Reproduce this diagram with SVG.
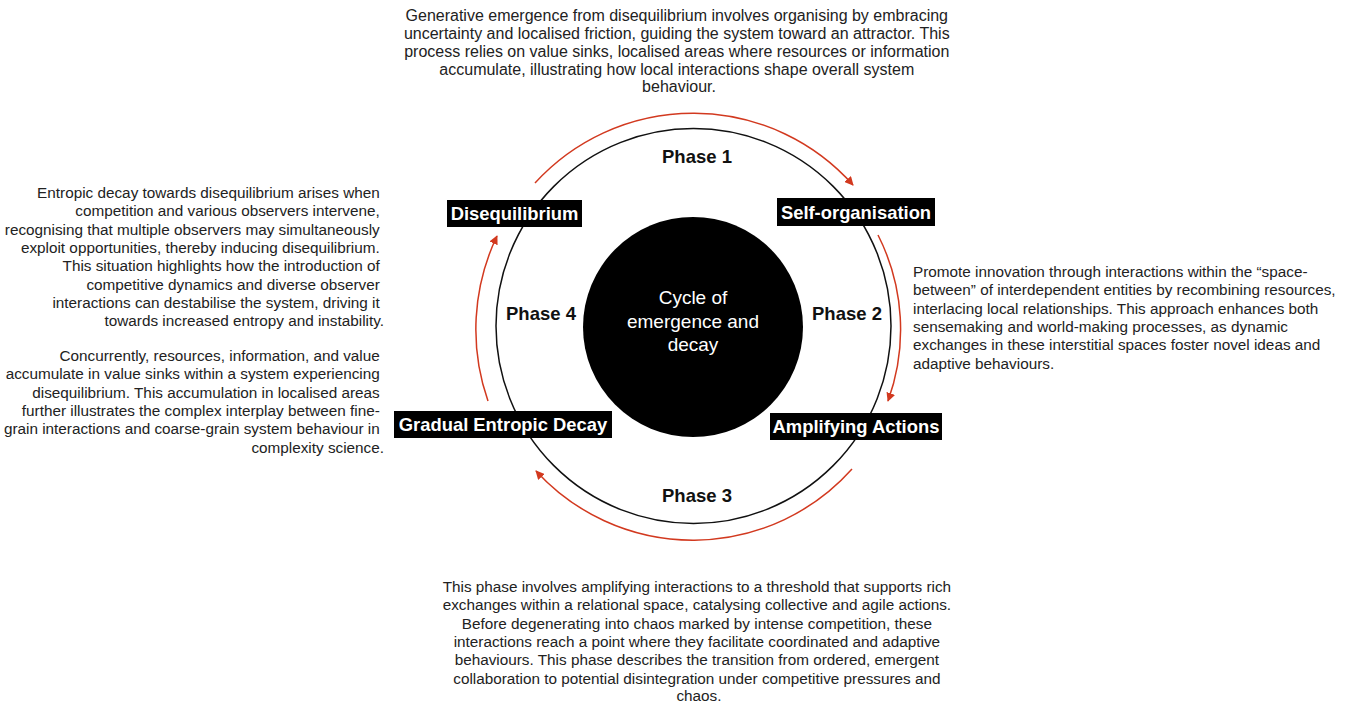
<svg xmlns="http://www.w3.org/2000/svg" width="1350" height="702" viewBox="0 0 1350 702">
  <style>
    .para { font-family: "Liberation Sans", Arial, Helvetica, sans-serif; font-size: 15.3px; fill: #222; }
    .para.wide { font-size: 16px; }
    .phase { font-family: "Liberation Sans", Arial, Helvetica, sans-serif; font-size: 18.5px; font-weight: bold; fill: #111; text-anchor: middle; }
    .tag rect { fill: #000; }
    .tag text { font-family: "Liberation Sans", Arial, Helvetica, sans-serif; font-size: 18.4px; font-weight: bold; fill: #fff; text-anchor: middle; }
    .core { font-family: "Liberation Sans", Arial, Helvetica, sans-serif; font-size: 19px; fill: #fff; text-anchor: middle; }
    .flow { fill: none; stroke: #d2391f; stroke-width: 1.5; marker-end: url(#head); }
  </style>
  <defs>
    <marker id="head" viewBox="0 0 10 10" refX="9" refY="5" markerWidth="9" markerHeight="9" markerUnits="userSpaceOnUse" orient="auto">
      <path d="M0,0 L10,5 L0,10 z" fill="#d2391f"/>
    </marker>
  </defs>
  <rect width="1350" height="702" fill="#fff"/>

  <!-- outer ring of the cycle -->
  <circle cx="693.5" cy="326" r="197.5" fill="none" stroke="#111" stroke-width="1.5"/>

  <!-- centre disc -->
  <g id="core">
    <circle cx="693" cy="327" r="110" fill="#000"/>
    <text class="core" x="693" y="304">Cycle of</text>
    <text class="core" x="693" y="328">emergence and</text>
    <text class="core" x="693" y="351">decay</text>
  </g>

  <!-- directional arrows between stages -->
  <g id="connectors">
    <path class="flow" d="M535,183 A214,214 0 0 1 853,185"/>
    <path class="flow" d="M878,235 A209,209 0 0 1 888,401"/>
    <path class="flow" d="M852,469 A213,213 0 0 1 536,471"/>
    <path class="flow" d="M488,401 A217,217 0 0 1 497,236"/>
  </g>

  <!-- phase labels -->
  <text class="phase" x="697" y="163">Phase 1</text>
  <text class="phase" x="847" y="320">Phase 2</text>
  <text class="phase" x="697" y="502">Phase 3</text>
  <text class="phase" x="541" y="320">Phase 4</text>

  <!-- stage tags -->
  <g id="disequilibrium" class="tag">
    <rect x="447" y="200" width="135" height="27"/>
    <text x="514.5" y="220">Disequilibrium</text>
  </g>
  <g id="self-organisation" class="tag">
    <rect x="777" y="198" width="158" height="28"/>
    <text x="856" y="218.5">Self-organisation</text>
  </g>
  <g id="amplifying-actions" class="tag">
    <rect x="770" y="413" width="172" height="27"/>
    <text x="856" y="433">Amplifying Actions</text>
  </g>
  <g id="gradual-entropic-decay" class="tag">
    <rect x="394" y="411" width="218" height="27"/>
    <text x="503" y="431">Gradual Entropic Decay</text>
  </g>

  <!-- phase descriptions -->
  <g id="text-phase1">
    <text class="para wide" text-anchor="middle">
      <tspan x="679" y="21">Generative emergence from disequilibrium involves organising by embracing</tspan>
      <tspan x="679" y="39">uncertainty and localised friction, guiding the system toward an attractor. This</tspan>
      <tspan x="679" y="56.5">process relies on value sinks, localised areas where resources or information</tspan>
      <tspan x="679" y="74.5">accumulate, illustrating how local interactions shape overall system</tspan>
      <tspan x="679" y="92">behaviour.</tspan>
    </text>
  </g>

  <g id="text-phase4">
    <text class="para" text-anchor="end">
      <tspan x="384" y="198">Entropic decay towards disequilibrium arises when</tspan>
      <tspan x="384" y="216.3">competition and various observers intervene,</tspan>
      <tspan x="384" y="234.6">recognising that multiple observers may simultaneously</tspan>
      <tspan x="384" y="252.9">exploit opportunities, thereby inducing disequilibrium.</tspan>
      <tspan x="384" y="271.2">This situation highlights how the introduction of</tspan>
      <tspan x="384" y="289.5">competitive dynamics and diverse observer</tspan>
      <tspan x="384" y="307.8">interactions can destabilise the system, driving it</tspan>
      <tspan x="384" y="326.1">towards increased entropy and instability.</tspan>
    </text>
    <text class="para" text-anchor="end">
      <tspan x="384" y="361">Concurrently, resources, information, and value</tspan>
      <tspan x="384" y="379.3">accumulate in value sinks within a system experiencing</tspan>
      <tspan x="384" y="397.6">disequilibrium. This accumulation in localised areas</tspan>
      <tspan x="384" y="415.9">further illustrates the complex interplay between fine-</tspan>
      <tspan x="384" y="434.2">grain interactions and coarse-grain system behaviour in</tspan>
      <tspan x="384" y="452.5">complexity science.</tspan>
    </text>
  </g>

  <g id="text-phase2">
    <text class="para">
      <tspan x="913" y="277">Promote innovation through interactions within the “space-</tspan>
      <tspan x="913" y="295.3">between” of interdependent entities by recombining resources,</tspan>
      <tspan x="913" y="313.6">interlacing local relationships. This approach enhances both</tspan>
      <tspan x="913" y="331.9">sensemaking and world-making processes, as dynamic</tspan>
      <tspan x="913" y="350.2">exchanges in these interstitial spaces foster novel ideas and</tspan>
      <tspan x="913" y="368.5">adaptive behaviours.</tspan>
    </text>
  </g>

  <g id="text-phase3">
    <text class="para" text-anchor="middle">
      <tspan x="699" y="592">This phase involves amplifying interactions to a threshold that supports rich</tspan>
      <tspan x="699" y="610.3">exchanges within a relational space, catalysing collective and agile actions.</tspan>
      <tspan x="699" y="628.6">Before degenerating into chaos marked by intense competition, these</tspan>
      <tspan x="699" y="646.9">interactions reach a point where they facilitate coordinated and adaptive</tspan>
      <tspan x="699" y="665.2">behaviours. This phase describes the transition from ordered, emergent</tspan>
      <tspan x="699" y="683.5">collaboration to potential disintegration under competitive pressures and</tspan>
      <tspan x="699" y="701">chaos.</tspan>
    </text>
  </g>
</svg>
